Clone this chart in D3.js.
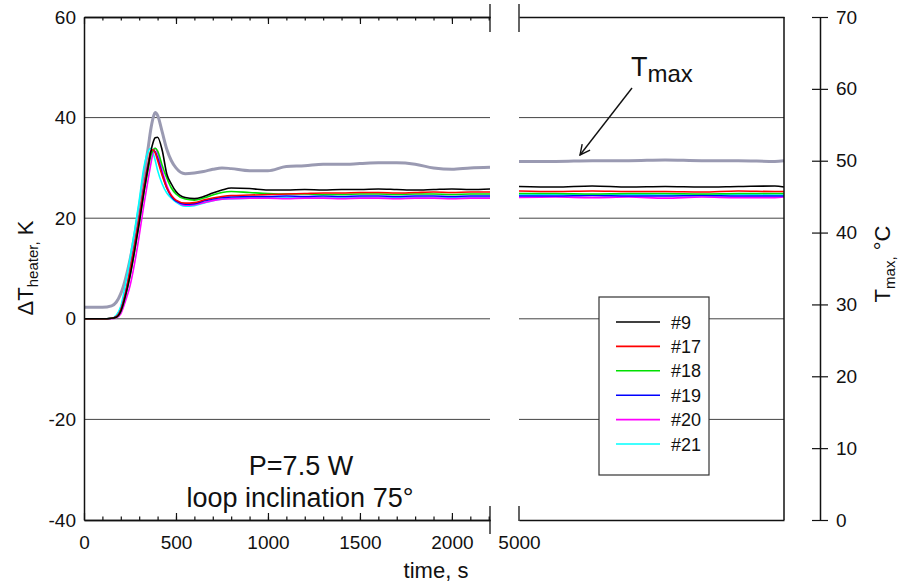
<!DOCTYPE html>
<html>
<head>
<meta charset="utf-8">
<script src="https://cdn.jsdelivr.net/npm/d3@7"></script>
<style>
  body { margin: 0; background: #fff; }
  svg text { font-family: "Liberation Sans", Arial, sans-serif; fill: #111; }
</style>
</head>
<body>
<div id="chart"></div>
<script>
// time axis (s) for the start-up part of the run
var timeLeft = [0, 100, 150, 175, 200, 225, 250, 275, 300, 325, 350, 362, 375, 387, 400, 425, 450, 475, 500, 550,
  600, 650, 700, 750, 800, 900, 1000, 1100, 1200, 1300, 1400, 1500, 1600, 1700, 1800, 1900, 2000, 2100, 2207];
// time axis (s) for the later part, after the break
var timeRight = [5000, 5200, 5400, 5600, 5800, 6000, 6200, 6400, 6450];

// heater temperature rise, K
var h9 = [0, 0, 0.1, 0.3, 1.5, 4.5, 8.5, 13.5, 19, 25, 30.5, 33, 35, 36, 36.1, 33.5, 28.8, 26.8, 25.3, 24.1,
  23.9, 24.3, 25, 25.6, 26, 25.9, 25.6, 25.6, 25.7, 25.6, 25.7, 25.7, 25.8, 25.7, 25.6, 25.7, 25.8, 25.7, 25.8];
var h17 = [0, 0, 0.1, 0.4, 1.8, 5, 9.5, 14.5, 20, 26, 31, 33.3, 33.6, 33, 31.5, 28.5, 26, 24.5, 23.6, 23,
  23.1, 23.6, 24, 24.3, 24.5, 24.6, 24.7, 24.8, 24.9, 25, 25, 25.1, 25.1, 25, 25.1, 25.2, 25.1, 25.2, 25.2];
var h18 = [0, 0, 0.1, 0.3, 1.5, 4.5, 8.5, 13.5, 19, 25, 30, 32.3, 33.5, 33.9, 33.4, 30.5, 28, 26, 24.8, 23.8,
  23.6, 24, 24.6, 25.1, 25.3, 25.1, 24.9, 24.8, 24.8, 24.7, 24.7, 24.8, 24.8, 24.7, 24.8, 24.8, 24.7, 24.8, 24.8];
var h19 = [0, 0, 0.1, 0.4, 1.8, 5, 9.5, 14.5, 20, 26, 31, 32.8, 33.5, 33.2, 32, 28.8, 26, 24.3, 23.4, 22.8,
  22.9, 23.4, 23.8, 24.1, 24.2, 24.3, 24.3, 24.4, 24.3, 24.4, 24.3, 24.4, 24.4, 24.3, 24.4, 24.4, 24.3, 24.4, 24.4];
var h20 = [0, 0, 0, 0.2, 1, 3.5, 6.5, 11, 16.5, 22.5, 28, 30.5, 33, 33.9, 33, 29.5, 26.5, 24.5, 23.5, 22.6,
  22.7, 23.1, 23.5, 23.8, 23.9, 24, 24, 23.9, 24, 24, 23.9, 24, 24, 23.9, 24, 24, 23.9, 24, 24];
var h21 = [0, 0, 0.1, 0.7, 2.5, 6.8, 12, 17.5, 23.5, 30, 33.4, 33.9, 33, 31.5, 29.5, 26.8, 25, 24, 23.2, 22.4,
  22.5, 23, 23.5, 23.8, 23.9, 24, 24, 24.1, 24, 24.1, 24, 24.1, 24, 24.1, 24.1, 24, 24.1, 24.1, 24.1];
// maximum temperature, degC (right axis)
var tmax = [29.6, 29.6, 29.8, 30.3, 31.5, 33.5, 36.2, 39.6, 43.5, 47.8, 52, 54.2, 55.9, 56.7, 56.3, 54, 51.6, 50, 49, 48.2,
  48.3, 48.5, 48.8, 49, 48.9, 48.6, 48.6, 49.2, 49.3, 49.5, 49.5, 49.6, 49.7, 49.7, 49.5, 49, 48.8, 49, 49.1];

var h9R = [26.3, 26.2, 26.4, 26.2, 26.3, 26.2, 26.3, 26.4, 26.2];
var h17R = [25.4, 25.3, 25.4, 25.3, 25.3, 25.2, 25.4, 25.3, 25.3];
var h18R = [24.9, 24.9, 24.8, 24.9, 24.9, 24.8, 24.9, 24.9, 24.9];
var h19R = [24.4, 24.4, 24.5, 24.4, 24.4, 24.5, 24.4, 24.4, 24.4];
var h20R = [24.1, 24.2, 24.1, 24.2, 24.0, 24.2, 24.1, 24.1, 24.2];
var h21R = [24.6, 24.7, 24.6, 24.7, 24.6, 24.6, 24.7, 24.6, 24.6];
var tmaxR = [49.9, 49.9, 50.0, 50.0, 50.1, 50.0, 50.0, 49.9, 50.0];

var seriesNames = ["#9", "#17", "#18", "#19", "#20", "#21"];
var seriesColors = ["#000000", "#ff0000", "#00e000", "#0000ff", "#ff00ff", "#00ffff"];
var leftTicks = [-40, -20, 0, 20, 40, 60];
var gridValues = [-20, 0, 20, 40];
var timeTicks = [0, 500, 1000, 1500, 2000];
var tmaxTicks = [0, 10, 20, 30, 40, 50, 60, 70];

var plain = function (d) { return d < 0 ? "-" + Math.abs(d) : String(d); };

var svg = d3.select("#chart").append("svg")
  .attr("width", 902)
  .attr("height", 588);

var xL = d3.scaleLinear().domain([0, 2207]).range([84, 490]);
var xR = d3.scaleLinear().domain([5000, 6450]).range([519, 784]);
var yL = d3.scaleLinear().domain([-40, 60]).range([520, 17]);
var yR = d3.scaleLinear().domain([0, 70]).range([520, 17]);

// grid lines, both panels
[xL, xR].forEach(function (xs) {
  svg.append("g").selectAll("line")
    .data(gridValues)
    .enter()
    .append("line")
    .attr("x1", xs.range()[0])
    .attr("x2", xs.range()[1])
    .attr("y1", function (d) { return yL(d); })
    .attr("y2", function (d) { return yL(d); })
    .attr("stroke", "#444")
    .attr("stroke-width", 1);
});

// curves
var leftSets = [h9, h17, h18, h19, h20, h21];
var rightSets = [h9R, h17R, h18R, h19R, h20R, h21R];

function drawLine(times, vals, xs, ys, color, width) {
  var line = d3.line()
    .x(function (d, i) { return xs(times[i]); })
    .y(function (d) { return ys(d); })
    .curve(d3.curveMonotoneX);
  svg.append("path")
    .datum(vals)
    .attr("d", line)
    .attr("fill", "none")
    .attr("stroke", color)
    .attr("stroke-width", width)
    .attr("stroke-linejoin", "round");
}

drawLine(timeLeft, tmax, xL, yR, "#9a9ab2", 3);
drawLine(timeRight, tmaxR, xR, yR, "#9a9ab2", 3);
for (var i = leftSets.length - 1; i >= 0; i--) {
  drawLine(timeLeft, leftSets[i], xL, yL, seriesColors[i], 1.6);
  drawLine(timeRight, rightSets[i], xR, yL, seriesColors[i], 1.6);
}

// left axis
var gLeft = svg.append("g")
  .attr("transform", "translate(84,0)")
  .call(d3.axisLeft(yL).tickValues(leftTicks).tickFormat(plain).tickSize(0).tickPadding(8));
gLeft.selectAll("text").style("font-size", "19px");

// bottom axis, left panel
var gBot = svg.append("g")
  .attr("transform", "translate(0,520)")
  .call(d3.axisBottom(xL).tickValues(timeTicks).tickFormat(plain).tickSizeInner(-7).tickSizeOuter(0).tickPadding(16));
gBot.selectAll("text").style("font-size", "19px");
svg.append("g")
  .attr("transform", "translate(0,520)")
  .call(d3.axisBottom(xL).tickValues(d3.range(100, 2207, 100)).tickSizeInner(-3.5).tickSizeOuter(0).tickFormat(""));
svg.append("g")
  .attr("transform", "translate(0,17)")
  .call(d3.axisTop(xL).tickValues(timeTicks).tickSizeInner(-7).tickSizeOuter(0).tickFormat(""));
svg.append("g")
  .attr("transform", "translate(0,17)")
  .call(d3.axisTop(xL).tickValues(d3.range(100, 2207, 100)).tickSizeInner(-3.5).tickSizeOuter(0).tickFormat(""));

// bottom axis, right panel
var gBotR = svg.append("g")
  .attr("transform", "translate(0,520)")
  .call(d3.axisBottom(xR).tickValues([5000]).tickFormat(plain).tickSize(0).tickPadding(16));
gBotR.selectAll("text").style("font-size", "19px");
svg.append("g")
  .attr("transform", "translate(0,17)")
  .call(d3.axisTop(xR).tickValues([]).tickSizeOuter(0));

svg.selectAll(".domain").attr("stroke", "#111").attr("stroke-width", 1.5);
svg.selectAll(".tick line").attr("stroke", "#111").attr("stroke-width", 1.2);

// right border of right panel
svg.append("line")
  .attr("x1", xR.range()[1]).attr("x2", xR.range()[1])
  .attr("y1", yL.range()[1]).attr("y2", yL.range()[0])
  .attr("stroke", "#111").attr("stroke-width", 1.5);

// break marks
[[490, 4, 32], [519, 4, 32], [490, 506, 534], [519, 506, 521]].forEach(function (b) {
  svg.append("line")
    .attr("x1", b[0]).attr("x2", b[0])
    .attr("y1", b[1]).attr("y2", b[2])
    .attr("stroke", "#111").attr("stroke-width", 1.3);
});

// Tmax axis on the right
var gRight = svg.append("g")
  .attr("transform", "translate(820,0)")
  .call(d3.axisRight(yR).tickValues(tmaxTicks).tickFormat(plain).tickSizeInner(8).tickSizeOuter(0).tickPadding(8));
gRight.select(".domain").attr("stroke", "#111").attr("stroke-width", 1.5);
gRight.selectAll(".tick line").attr("x1", -8).attr("stroke", "#111").attr("stroke-width", 1.2);
gRight.selectAll("text").style("font-size", "19px");

// axis titles
svg.append("text")
  .attr("x", 436).attr("y", 578)
  .attr("text-anchor", "middle")
  .style("font-size", "22px")
  .text("time, s");

var yTitle = svg.append("text")
  .attr("transform", "translate(33,268) rotate(-90)")
  .attr("text-anchor", "middle")
  .style("font-size", "22px");
yTitle.append("tspan").text("\u0394T");
yTitle.append("tspan").attr("dy", 5).style("font-size", "15px").text("heater,");
yTitle.append("tspan").attr("dy", -5).text(" K");

var rTitle = svg.append("text")
  .attr("transform", "translate(890,264) rotate(-90)")
  .attr("text-anchor", "middle")
  .style("font-size", "22px");
rTitle.append("tspan").text("T");
rTitle.append("tspan").attr("dy", 5).style("font-size", "15px").text("max,");
rTitle.append("tspan").attr("dy", -5).text(" \u00B0C");

// legend
var leg = svg.append("g");
leg.append("rect")
  .attr("x", 599).attr("y", 297)
  .attr("width", 110).attr("height", 178)
  .attr("fill", "#fff")
  .attr("stroke", "#333").attr("stroke-width", 1.2);
var rows = leg.selectAll(".row")
  .data(seriesNames)
  .enter()
  .append("g")
  .attr("class", "row")
  .attr("transform", function (d, i) { return "translate(0," + (322 + i * 24.4) + ")"; });
rows.append("line")
  .attr("x1", 616).attr("x2", 660)
  .attr("stroke", function (d, i) { return seriesColors[i]; })
  .attr("stroke-width", 1.6);
rows.append("text")
  .attr("x", 671).attr("y", 6.5)
  .style("font-size", "18px")
  .text(function (d) { return d; });

// notes
svg.append("text")
  .attr("x", 301).attr("y", 475)
  .attr("text-anchor", "middle")
  .style("font-size", "27px")
  .text("P=7.5 W");
svg.append("text")
  .attr("x", 300).attr("y", 507)
  .attr("text-anchor", "middle")
  .style("font-size", "27px")
  .text("loop inclination 75\u00B0");

// Tmax annotation with arrow
var ann = svg.append("text")
  .attr("x", 631).attr("y", 76)
  .style("font-size", "27px");
ann.append("tspan").text("T");
ann.append("tspan").attr("dy", 6).style("font-size", "24px").text("max");

svg.append("defs").append("marker")
  .attr("id", "arr")
  .attr("viewBox", "0 0 12 12")
  .attr("refX", 11).attr("refY", 6)
  .attr("markerWidth", 12).attr("markerHeight", 12)
  .attr("markerUnits", "userSpaceOnUse")
  .attr("orient", "auto")
  .append("path")
  .attr("d", "M1,1 L11,6 L1,11")
  .attr("fill", "none")
  .attr("stroke", "#111")
  .attr("stroke-width", 1.4);
svg.append("line")
  .attr("x1", 632).attr("y1", 88)
  .attr("x2", 580).attr("y2", 155)
  .attr("stroke", "#111").attr("stroke-width", 1.4)
  .attr("marker-end", "url(#arr)");
</script>
</body>
</html>
